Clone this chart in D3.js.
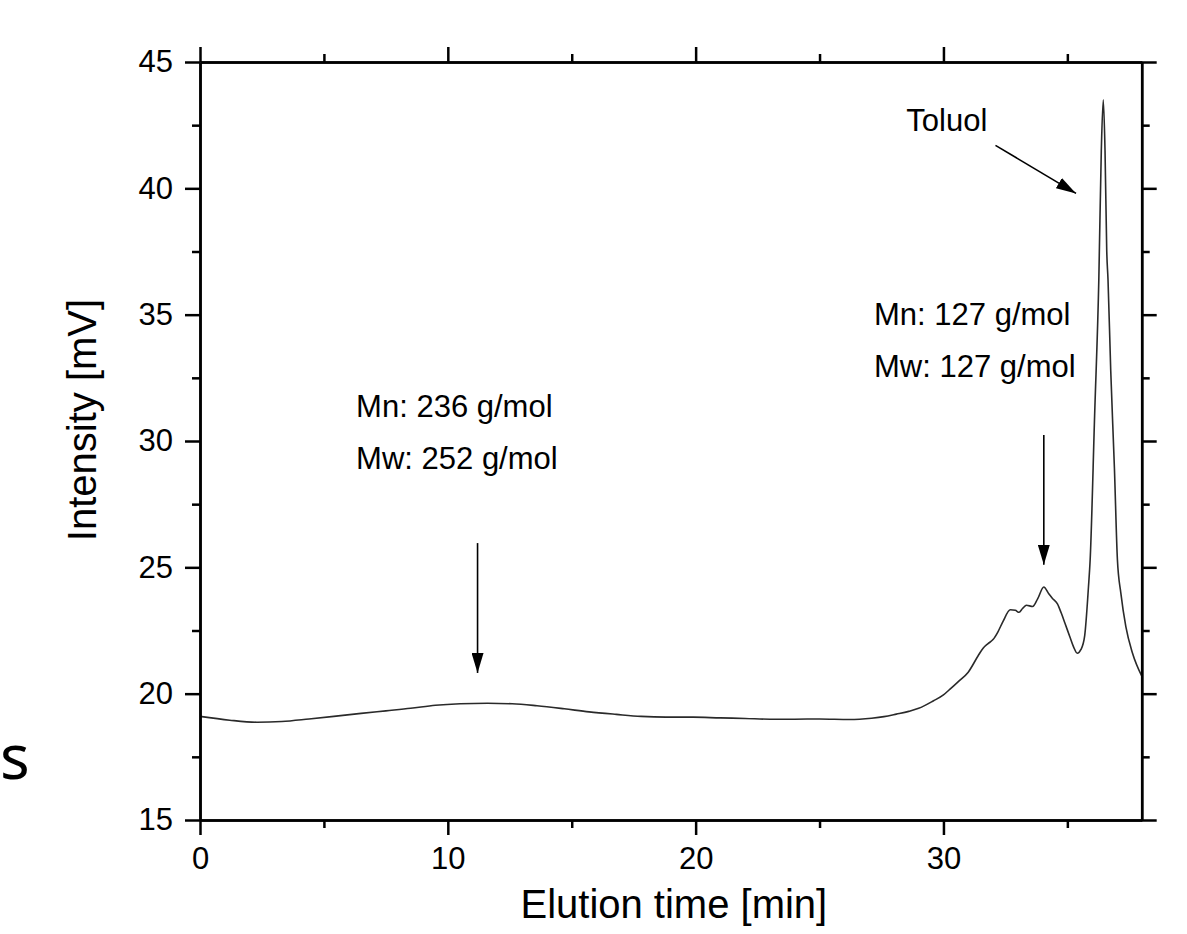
<!DOCTYPE html>
<html>
<head>
<meta charset="utf-8">
<script src="https://cdn.jsdelivr.net/npm/d3@7"></script>
<style>
  body { margin: 0; background: #fff; }
  svg { display: block; }
  .axis path, .axis line { stroke: #000; stroke-width: 2.5; }
  .axis text { font-family: "Liberation Sans", Arial, sans-serif; font-size: 31px; fill: #000; }
  .title { font-family: "Liberation Sans", Arial, sans-serif; font-size: 40px; fill: #000; }
  .note { font-family: "Liberation Sans", Arial, sans-serif; font-size: 31px; fill: #000; }
</style>
</head>
<body>
<svg id="chart" width="1187" height="934"></svg>
<script>
// chromatogram (minutes, mV)
const time = [0, 1.2, 2.3, 3.3, 4.4, 5.4, 6.5, 7.5, 8.5, 9.5, 10.5, 11.6, 12.6, 13.6, 14.7,
  15.7, 16.8, 17.8, 18.8, 19.9, 21, 22, 23, 24, 25, 26.2, 27.1, 27.6, 28.1, 28.6, 29,
  29.6, 30, 30.3, 30.6, 31, 31.4, 31.6, 31.8, 32, 32.2, 32.4, 32.7, 32.9, 33.05, 33.2,
  33.35, 33.6, 33.8, 34.05, 34.25, 34.4, 34.6, 34.75, 34.9, 35.1, 35.25, 35.4, 35.55,
  35.7, 35.85, 35.92, 36.1, 36.27, 36.37, 36.45, 36.52, 36.59, 36.64, 36.75, 36.9,
  37.02, 37.16, 37.36, 37.63, 38];
const intensity = [19.10, 18.95, 18.87, 18.90, 19.00, 19.10, 19.22, 19.32, 19.42, 19.54,
  19.60, 19.62, 19.60, 19.52, 19.40, 19.28, 19.18, 19.10, 19.07, 19.07, 19.04, 19.02,
  18.99, 18.99, 19.00, 18.98, 19.03, 19.09, 19.19, 19.30, 19.42, 19.72, 19.95, 20.21,
  20.48, 20.85, 21.5, 21.8, 21.98, 22.14, 22.45, 22.85, 23.32, 23.30, 23.22, 23.38,
  23.5, 23.45, 23.75, 24.22, 23.95, 23.77, 23.55, 23.2, 22.8, 22.25, 21.85, 21.6,
  21.75, 22.3, 24.2, 25.3, 31.0, 36.4, 41.5, 43.5, 41.5, 37.5, 36.4, 32.8, 28.9,
  25.3, 23.97, 22.65, 21.6, 20.7];

const xMajor = [0, 10, 20, 30];
const xMinor = [5, 15, 25, 35];
const yMajor = [15, 20, 25, 30, 35, 40, 45];
const yMinor = [17.5, 22.5, 27.5, 32.5, 37.5, 42.5];

// annotations: label lines, arrow start and end in data units
const notes = [
  { lines: ["Mn: 236 g/mol", "Mw: 252 g/mol"], at: [6.3, 30.95], from: [11.2, 25.96], to: [11.2, 20.82] },
  { lines: ["Mn: 127 g/mol", "Mw: 127 g/mol"], at: [27.2, 34.6], from: [34.05, 30.24], to: [34.05, 25.1] },
  { lines: ["Toluol"], at: [28.5, 42.25], from: [32.1, 41.7], to: [35.35, 39.8] }
];

const margin = { top: 62, right: 45.3, bottom: 114, left: 200 };
const width = 1187 - margin.left - margin.right;
const height = 934 - margin.top - margin.bottom;

const svg = d3.select("#chart");

svg.append("defs").append("marker")
  .attr("id", "head")
  .attr("viewBox", "0 0 20 12")
  .attr("refX", 20)
  .attr("refY", 6)
  .attr("markerWidth", 20)
  .attr("markerHeight", 12)
  .attr("markerUnits", "userSpaceOnUse")
  .attr("orient", "auto")
  .append("path")
  .attr("d", "M0,0L20,6L0,12Z")
  .attr("fill", "#000");

const g = svg.append("g").attr("transform", `translate(${margin.left},${margin.top})`);

const x = d3.scaleLinear().domain([0, 38]).range([0, width]);
const y = d3.scaleLinear().domain([15, 45]).range([height, 0]);

// curve
const line = d3.line()
  .x((d, i) => x(time[i]))
  .y(d => y(d))
  .curve(d3.curveMonotoneX);

g.append("path")
  .datum(intensity)
  .attr("fill", "none")
  .attr("stroke", "#2a2a2a")
  .attr("stroke-width", 1.6)
  .attr("d", line);

// axes, ticks outward on all four sides
function addAxis(axisFn, scale, values, size, labels, transform) {
  const a = axisFn(scale).tickValues(values).tickSize(size).tickSizeOuter(0).tickPadding(12);
  if (!labels) a.tickFormat("");
  g.append("g").attr("class", "axis").attr("transform", transform).call(a);
}

addAxis(d3.axisBottom, x, xMinor, 8, false, `translate(0,${height})`);
addAxis(d3.axisBottom, x, xMajor, 15, true, `translate(0,${height})`);
addAxis(d3.axisTop, x, xMinor, 8, false, "translate(0,0)");
addAxis(d3.axisTop, x, xMajor, 15, false, "translate(0,0)");
addAxis(d3.axisLeft, y, yMinor, 8, false, "translate(0,0)");
addAxis(d3.axisLeft, y, yMajor, 15, true, "translate(0,0)");
addAxis(d3.axisRight, y, yMinor, 8, false, `translate(${width},0)`);
addAxis(d3.axisRight, y, yMajor, 15, false, `translate(${width},0)`);

// axis titles
g.append("text")
  .attr("class", "title")
  .attr("text-anchor", "middle")
  .attr("x", width / 2 + 3)
  .attr("y", height + 98)
  .text("Elution time [min]");

g.append("text")
  .attr("class", "title")
  .attr("text-anchor", "middle")
  .attr("transform", `translate(-104,${y(30.83)}) rotate(-90)`)
  .text("Intensity [mV]");

// annotations
notes.forEach(n => {
  const t = g.append("text").attr("class", "note");
  n.lines.forEach((s, i) => {
    t.append("tspan")
      .attr("x", x(n.at[0]))
      .attr("y", y(n.at[1]) + i * 52)
      .text(s);
  });
  g.append("line")
    .attr("x1", x(n.from[0])).attr("y1", y(n.from[1]))
    .attr("x2", x(n.to[0])).attr("y2", y(n.to[1]))
    .attr("stroke", "#000")
    .attr("stroke-width", 1.6)
    .attr("marker-end", "url(#head)");
});

// stray glyph at the left edge of the source figure
svg.append("text")
  .attr("x", 0)
  .attr("y", 779)
  .attr("text-anchor", "start")
  .style("font-family", "'Noto Sans', sans-serif")
  .style("font-size", "62px")
  .text("s");
</script>
</body>
</html>
